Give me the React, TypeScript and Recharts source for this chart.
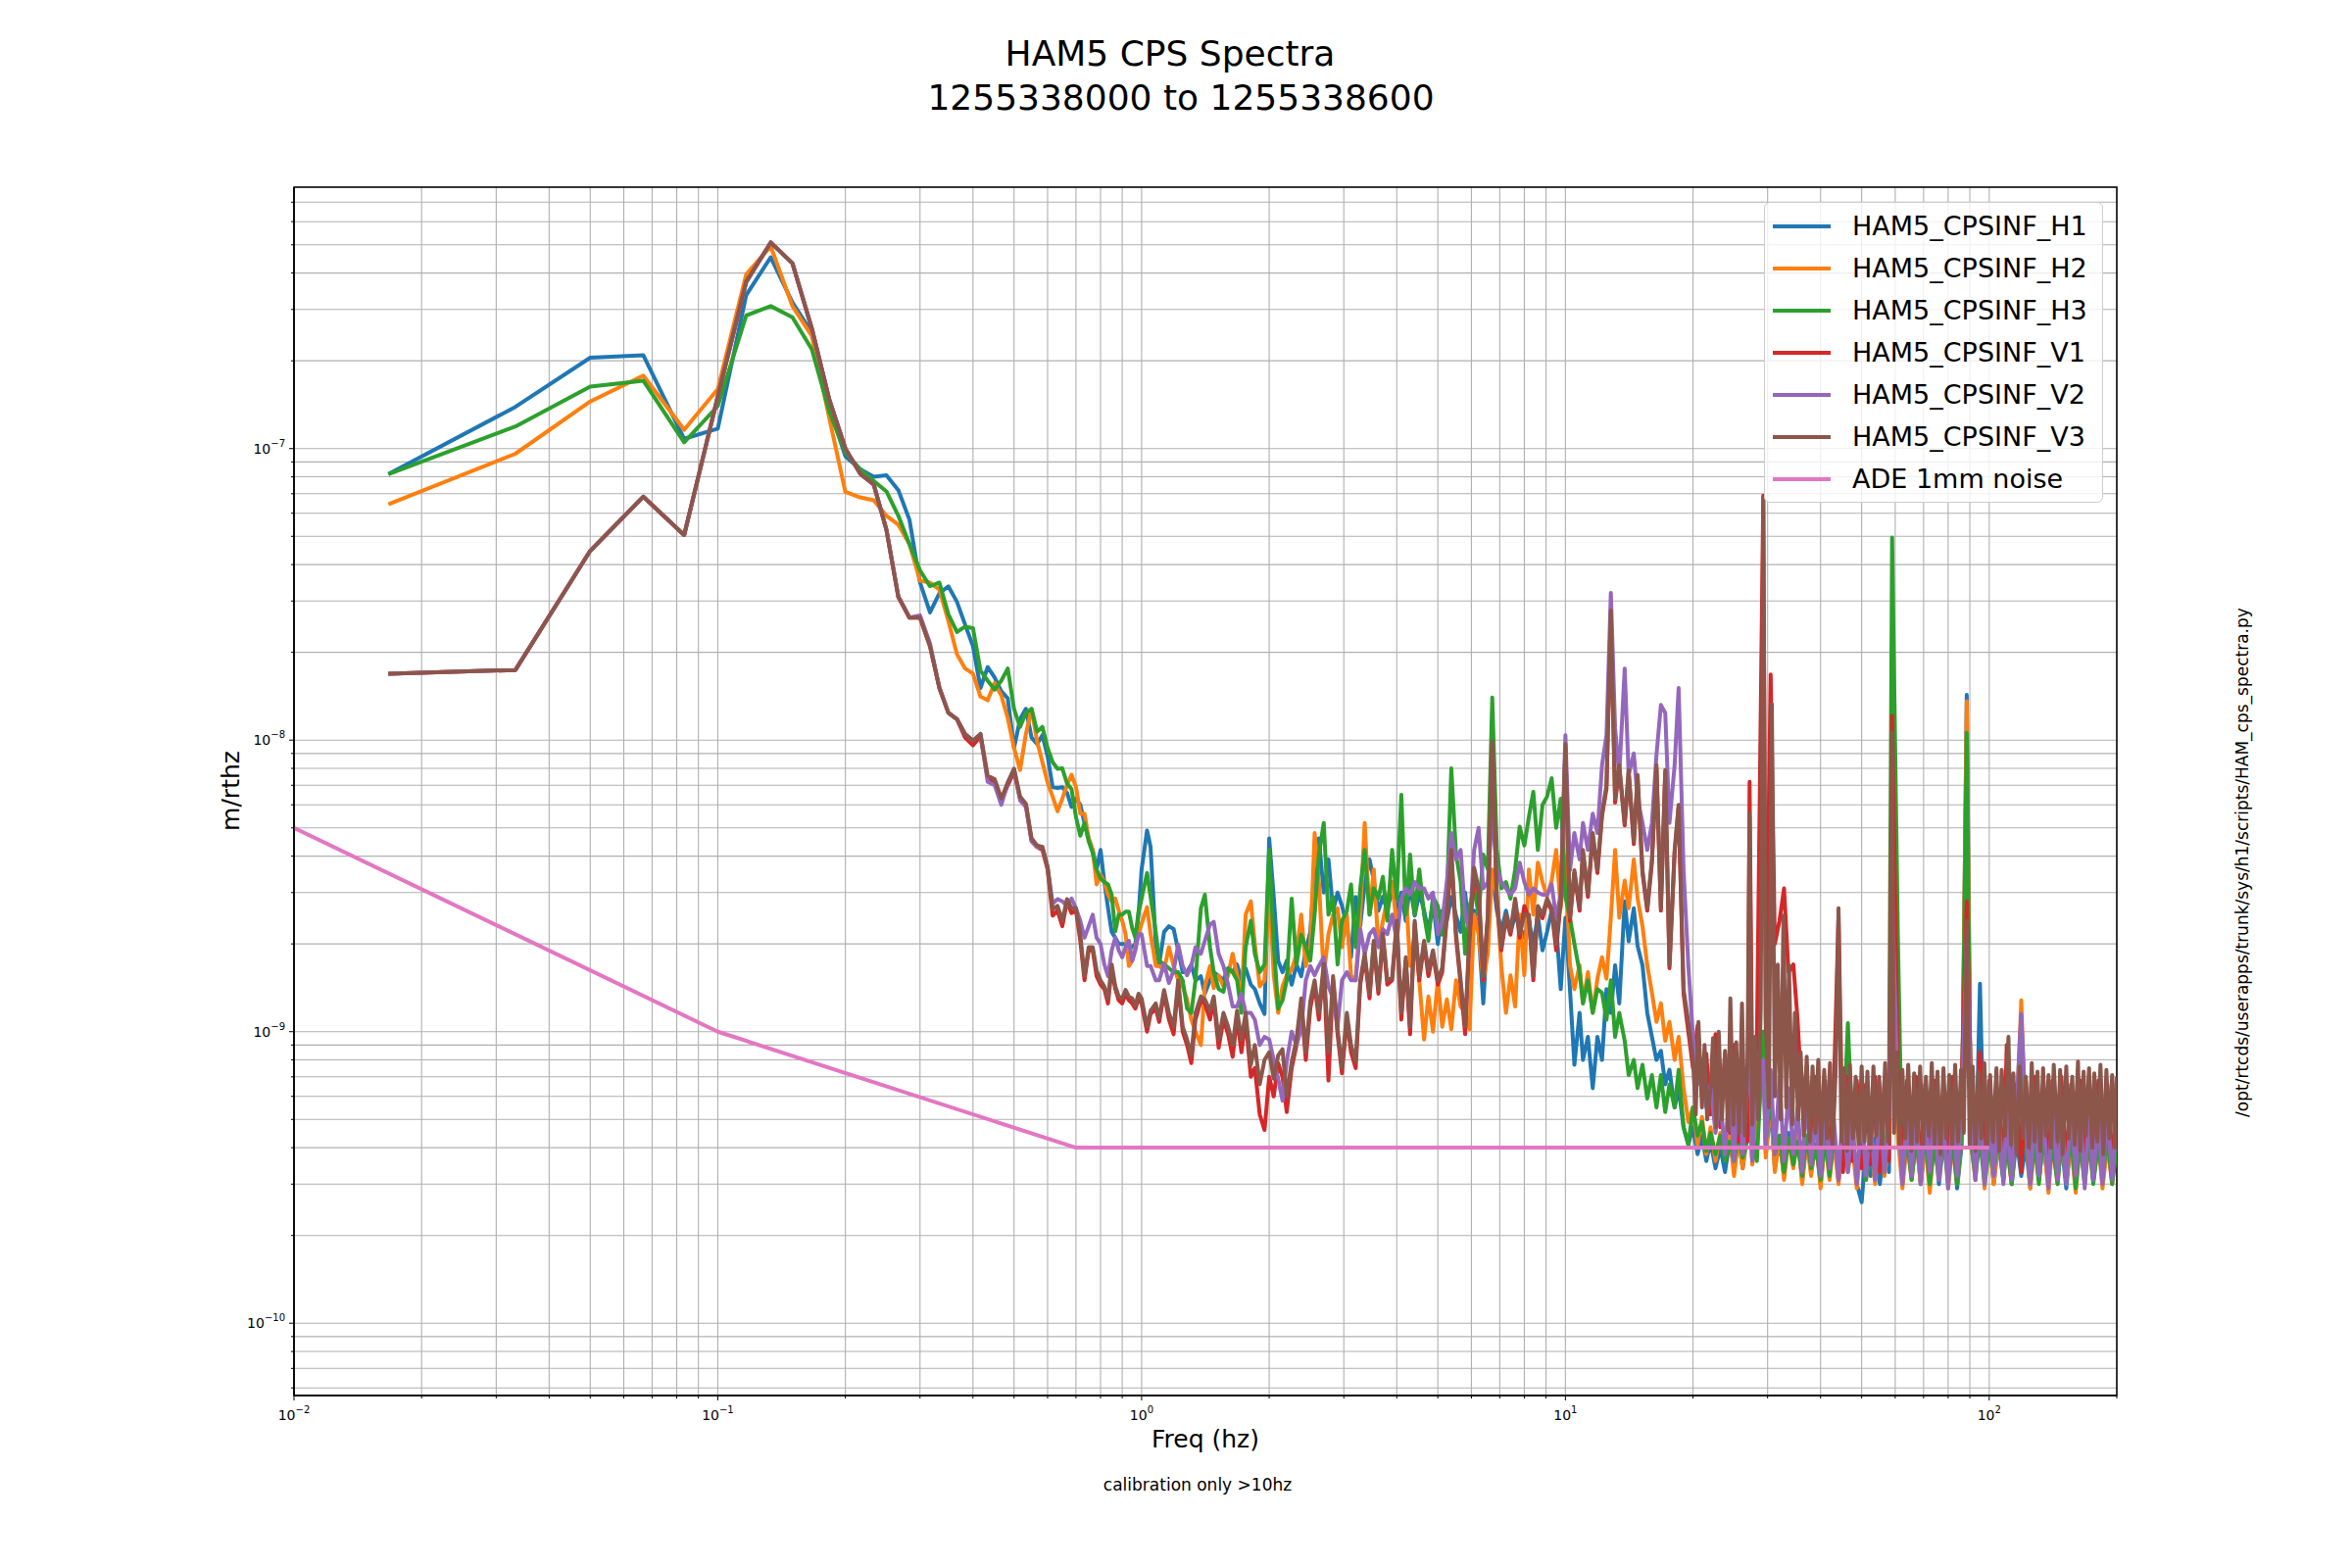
import { LineChart, Line, XAxis, YAxis, CartesianGrid, Legend, ReferenceArea } from "recharts";

// HAM5 CPS amplitude spectra. Values are in nm/rtHz (1e-9 m/rtHz).
const FONT = "DejaVu Sans";
const XMIN = 0.01;
const XMAX = 200;
const YMIN = 0.0565;
const YMAX = 788;

const FREQ = [
  0.0167, 0.0333, 0.05, 0.0667, 0.0833, 0.1, 0.1167, 0.1333, 0.15, 0.1667,
  0.1833, 0.2, 0.2167, 0.2333, 0.25, 0.2667, 0.2833, 0.3, 0.3167, 0.3333,
  0.35, 0.3667, 0.3833, 0.4, 0.4167, 0.4333, 0.45, 0.4667, 0.4833, 0.5,
  0.5167, 0.5333, 0.55, 0.5667, 0.5833, 0.6, 0.6167, 0.6333, 0.65, 0.6667,
  0.6833, 0.7, 0.7167, 0.7333, 0.75, 0.7667, 0.7833, 0.8, 0.8167, 0.8333,
  0.85, 0.8667, 0.8833, 0.9, 0.9167, 0.9333, 0.95, 0.9667, 0.9833, 1.0,
  1.03, 1.05, 1.08, 1.1, 1.13, 1.16, 1.19, 1.22, 1.25, 1.28,
  1.31, 1.34, 1.38, 1.41, 1.45, 1.48, 1.52, 1.56, 1.6, 1.64,
  1.68, 1.72, 1.76, 1.81, 1.85, 1.9, 1.95, 2.0, 2.05, 2.1,
  2.15, 2.2, 2.26, 2.32, 2.38, 2.44, 2.5, 2.56, 2.62, 2.69,
  2.76, 2.83, 2.9, 2.97, 3.05, 3.12, 3.2, 3.28, 3.36, 3.45,
  3.53, 3.62, 3.71, 3.8, 3.9, 4.0, 4.1, 4.2, 4.3, 4.41,
  4.52, 4.64, 4.75, 4.87, 5.0, 5.12, 5.25, 5.38, 5.52, 5.66,
  5.8, 5.94, 6.09, 6.24, 6.4, 6.56, 6.72, 6.89, 7.06, 7.24,
  7.42, 7.61, 7.8, 8.0, 8.2, 8.4, 8.61, 8.83, 9.05, 9.28,
  9.51, 9.75, 10.0, 10.25, 10.5, 10.8, 11.0, 11.3, 11.6, 11.9,
  12.2, 12.5, 12.8, 13.1, 13.4, 13.8, 14.1, 14.5, 14.8, 15.2,
  15.6, 16.0, 16.4, 16.8, 17.2, 17.6, 18.1, 18.5, 19.0, 19.5,
  20.0, 20.5, 21.0, 21.5, 22.0, 22.6, 23.2, 23.8, 24.4, 25.0,
  25.6, 26.2, 26.9, 27.2, 27.6, 28.3, 29.3, 29.7, 30.5, 31.2,
  32.0, 32.8, 33.6, 34.5, 35.3, 36.2, 37.1, 38.0, 39.0, 40.0,
  41.0, 42.0, 43.0, 44.1, 45.2, 46.4, 47.5, 48.7, 50.0, 51.2,
  52.5, 53.8, 55.2, 56.6, 58.0, 59.0, 60.9, 62.4, 64.0, 65.6,
  67.2, 68.9, 70.6, 72.4, 74.2, 76.1, 78.0, 80.0, 82.0, 84.0,
  86.1, 88.5, 90.5, 92.8, 95.1, 97.5, 100, 102.5, 105, 108,
  110, 113, 116, 119, 122, 125, 128, 131, 134, 138,
  141, 145, 148, 152, 156, 160, 164, 168, 172, 176,
  181, 185, 190, 195, 200,
];

const H1 = [
  81.7, 139, 205, 209, 108, 117, 336, 453, 317, 250,
  138, 94, 85, 80, 81, 72, 57, 34.7, 27.4, 31.9,
  33.7, 29.8, 24.9, 21, 15.1, 17.8, 16.4, 14.7, 13.9, 9.4,
  11.8, 12.8, 10.2, 9.7, 10.4, 8.8, 6.9, 6.85, 6.9, 6.6,
  5.9, 6.3, 6.0, 5.2, 4.6, 4.2, 3.6, 4.2, 3.26, 2.65,
  2.2, 2.1, 2.0, 2.0, 2.0, 1.95, 1.95, 2.0, 2.52, 3.6,
  4.9, 4.3, 2.0, 1.7, 2.2, 2.3, 2.25, 1.9, 1.6, 1.6,
  1.7, 1.5, 1.55, 1.35, 1.5, 1.6, 1.55, 1.5, 1.65, 1.6,
  1.7, 1.5, 1.65, 1.45, 1.4, 1.25, 1.15, 4.6, 2.9, 1.75,
  1.6, 1.75, 1.45, 1.7, 1.55, 1.9, 2.2, 3.6, 4.6, 3.0,
  3.9, 2.6, 3.0, 2.7, 2.3, 1.8, 2.9, 2.3, 3.2, 3.9,
  3.3, 2.6, 2.9, 2.6, 3.1, 2.6, 3.0, 2.4, 3.2, 2.5,
  3.0, 2.6, 2.2, 2.8, 2.0, 2.6, 2.4, 2.9, 2.5, 2.2,
  3.0, 2.1, 2.6, 2.2, 1.25, 2.3, 3.5, 2.6, 2.2, 2.6,
  2.2, 2.5, 2.3, 2.1, 2.4, 2.0, 2.5, 1.9, 2.2, 2.6,
  2.3, 1.4, 2.46, 1.4, 0.77, 1.16, 0.8, 0.96, 0.64, 0.96,
  0.8, 1.4, 1.16, 1.69, 1.25, 2.8, 2.04, 2.65, 1.97, 1.69,
  1.16, 0.96, 0.8, 0.86, 0.66, 0.74, 0.55, 0.64, 0.47, 0.41,
  0.47, 0.38, 0.44, 0.36, 0.42, 0.34, 0.4, 0.33, 0.42, 0.35,
  0.44, 0.34, 0.45, 0.5, 0.36, 0.42, 0.9, 0.38, 0.55, 0.34,
  0.42, 0.32, 0.45, 0.35, 0.43, 0.31, 0.44, 0.33, 0.41, 0.3,
  0.42, 0.33, 0.45, 0.31, 0.4, 0.34, 0.44, 0.3, 0.26, 0.4,
  0.32, 0.43, 0.3, 0.41, 0.33, 3.0, 0.45, 0.31, 0.42, 0.32,
  0.44, 0.3, 0.41, 0.33, 0.45, 0.3, 0.42, 0.32, 0.44, 0.29,
  0.41, 14.3, 0.44, 0.31, 1.46, 0.32, 0.43, 0.3, 0.42, 0.31,
  0.44, 0.3, 0.43, 0.32, 0.41, 0.29, 0.44, 0.31, 0.42, 0.3,
  0.43, 0.31, 0.42, 0.29, 0.44, 0.32, 0.41, 0.3, 0.43, 0.31,
  0.42, 0.3, 0.44, 0.31, 0.4,
];

const H2 = [
  64.4, 96, 145, 178, 116, 160, 396, 494, 308, 243,
  127, 71, 68, 66.5, 58.8, 54.8, 47, 35.2, 34.7, 32.8,
  25.6, 19.7, 17.6, 16.9, 14.1, 13.7, 15.7, 14.2, 11.9, 9.4,
  7.9, 10.5, 12.8, 9.9, 8.4, 7.15, 6.4, 5.7, 6.3, 7.0,
  7.6, 6.9, 5.6, 5.6, 4.6, 4.2, 3.2, 3.45, 3.26, 2.95,
  2.8, 2.86, 2.6, 2.4, 2.16, 1.68, 1.75, 1.95, 2.16, 2.35,
  2.67, 2.16, 1.68, 1.68, 1.63, 1.95, 1.68, 1.5, 1.43, 1.29,
  1.1, 1.0, 0.9, 1.43, 1.68, 1.41, 1.56, 1.43, 1.56, 1.85,
  1.56, 1.29, 2.52, 2.8, 2.0, 1.43, 1.5, 3.1, 1.56, 1.16,
  1.43, 1.56, 1.63, 1.85, 2.52, 1.68, 1.95, 4.8, 3.26, 1.56,
  2.16, 2.52, 2.65, 1.95, 2.52, 1.56, 1.5, 2.52, 5.2, 2.52,
  3.6, 1.95, 2.4, 2.86, 3.26, 2.3, 2.8, 3.1, 1.68, 2.16,
  1.5, 0.94, 1.32, 1.0, 1.5, 1.04, 1.29, 1.02, 1.5, 1.22,
  1.16, 1.02, 2.52, 2.16, 1.5, 1.85, 3.6, 2.9, 1.68, 1.16,
  1.56, 1.22, 2.52, 1.56, 3.6, 2.52, 3.8, 3.26, 2.9, 3.3,
  4.2, 2.65, 4.0, 1.69, 1.4, 1.69, 1.25, 1.6, 1.16, 1.52,
  1.8, 1.52, 2.46, 4.2, 2.46, 3.3, 2.65, 3.9, 2.87, 2.3,
  1.69, 1.36, 1.08, 1.25, 0.93, 1.08, 0.8, 0.96, 0.64, 0.49,
  0.55, 0.41, 0.51, 0.38, 0.47, 0.36, 0.45, 0.37, 0.44, 0.32,
  0.43, 0.34, 0.46, 0.6, 0.35, 0.44, 1.0, 0.37, 0.6, 0.33,
  0.44, 0.31, 0.43, 0.34, 0.45, 0.3, 0.42, 0.32, 0.44, 0.29,
  0.43, 0.31, 0.42, 0.3, 0.45, 0.33, 0.41, 0.29, 0.43, 0.31,
  0.42, 0.3, 0.44, 0.32, 0.41, 3.0, 0.43, 0.29, 0.42, 0.31,
  0.44, 0.3, 0.42, 0.28, 0.43, 0.31, 0.45, 0.29, 0.41, 0.3,
  0.43, 13.6, 0.42, 0.31, 0.6, 0.29, 0.44, 0.3, 0.42, 0.32,
  0.41, 0.3, 0.5, 1.28, 0.43, 0.29, 0.42, 0.31, 0.44, 0.28,
  0.42, 0.3, 0.43, 0.31, 0.41, 0.28, 0.44, 0.3, 0.42, 0.31,
  0.43, 0.29, 0.41, 0.3, 0.42,
];

const H3 = [
  81.7, 119, 163, 171, 105, 140, 286, 308, 282, 219,
  134, 97, 85, 77.5, 71.3, 58.8, 47, 38.2, 33.7, 34.7,
  27, 23.5, 24.5, 24.2, 17.3, 16, 14.9, 16, 17.6, 12.8,
  11.1, 12.4, 12.8, 10.7, 11.1, 9.4, 8.4, 7.97, 8.0, 7.1,
  6.8, 5.45, 4.7, 5.2, 4.5, 4.1, 3.6, 3.35, 3.26, 3.2,
  2.95, 2.21, 2.52, 2.52, 2.58, 2.58, 2.27, 2.1, 2.58, 2.86,
  3.5, 2.9, 2.2, 1.75, 1.7, 1.65, 1.6, 1.6, 1.5, 1.2,
  1.16, 1.5, 2.65, 2.95, 1.95, 1.6, 1.4, 1.37, 1.65, 1.6,
  1.5, 1.16, 1.95, 2.4, 1.85, 1.6, 1.7, 4.2, 2.0, 1.2,
  1.28, 1.5, 2.86, 1.7, 2.15, 1.95, 1.75, 2.52, 4.05, 5.2,
  2.52, 2.9, 1.7, 2.4, 2.6, 3.2, 1.95, 3.1, 4.2, 2.52,
  3.1, 2.86, 3.4, 2.4, 4.2, 2.86, 6.5, 2.52, 4.05, 2.52,
  3.6, 2.52, 2.05, 2.9, 2.7, 2.15, 2.9, 8.0, 4.05, 3.26,
  1.85, 2.7, 3.1, 2.52, 4.05, 3.6, 14, 4.2, 3.1, 3.26,
  2.86, 3.6, 5.05, 4.35, 5.45, 6.65, 4.2, 6.0, 6.4, 7.4,
  5.0, 6.3, 2.9, 2.46, 2.0, 1.6, 1.25, 1.5, 1.16, 1.4,
  1.36, 1.1, 1.5, 0.96, 1.16, 0.93, 0.71, 0.8, 0.64, 0.77,
  0.59, 0.71, 0.55, 0.71, 0.53, 0.66, 0.55, 0.74, 0.47, 0.41,
  0.55, 0.44, 0.49, 0.39, 0.45, 0.38, 0.44, 0.36, 0.42, 0.36,
  0.44, 0.37, 0.43, 0.5, 0.45, 0.36, 1.0, 0.42, 0.6, 0.38,
  0.44, 0.33, 0.43, 0.35, 0.42, 0.32, 0.44, 0.34, 0.41, 0.31,
  0.43, 0.32, 0.44, 0.34, 0.42, 1.07, 0.45, 0.33, 0.42, 0.31,
  0.43, 0.32, 0.44, 0.33, 0.6, 49.5, 2.06, 0.32, 0.43, 0.31,
  0.42, 0.33, 0.44, 0.3, 0.41, 0.32, 0.43, 0.31, 0.42, 0.3,
  0.44, 10.6, 0.42, 0.32, 0.43, 0.3, 0.41, 0.33, 0.44, 0.31,
  0.42, 0.3, 0.45, 1.13, 0.43, 0.31, 0.42, 0.3, 0.44, 0.32,
  0.41, 0.3, 0.43, 0.32, 0.44, 0.29, 0.42, 0.31, 0.43, 0.3,
  0.42, 0.31, 0.44, 0.3, 0.41,
];

const V1 = [
  16.9, 17.4, 44.6, 68.4, 50.5, 151, 373, 509, 432, 258,
  147, 100, 82, 75.3, 52.6, 31, 26.3, 26.3, 21, 15.1,
  12.4, 11.8, 10.2, 9.6, 10.3, 7.4, 7.2, 6.2, 7.0, 7.8,
  6.3, 6.0, 4.5, 4.3, 4.2, 3.6, 2.5, 2.6, 2.3, 2.8,
  2.55, 2.6, 2.05, 1.5, 1.9, 1.9, 1.55, 1.45, 1.4, 1.25,
  1.65, 1.4, 1.28, 1.25, 1.35, 1.28, 1.25, 1.2, 1.3, 1.25,
  1.0, 1.15, 1.2, 1.08, 1.35, 1.1, 0.98, 1.45, 1.0, 0.9,
  0.78, 1.1, 1.28, 1.25, 1.1, 1.28, 0.88, 1.1, 0.98, 0.82,
  1.12, 0.85, 1.1, 0.7, 0.75, 0.52, 0.46, 0.7, 0.6, 0.78,
  0.7, 0.53, 0.75, 0.9, 1.25, 0.8, 1.2, 1.45, 1.1, 1.65,
  0.68, 1.5, 0.98, 0.72, 1.1, 0.85, 0.75, 1.45, 1.8, 1.3,
  2.0, 1.35, 2.1, 1.45, 1.5, 2.3, 1.1, 1.75, 0.98, 2.35,
  1.5, 2.0, 1.55, 1.85, 1.45, 1.6, 2.45, 4.0, 2.1, 1.45,
  0.98, 2.1, 3.5, 3.0, 1.5, 2.45, 9.6, 2.8, 1.9, 2.45,
  2.15, 2.8, 2.1, 2.7, 2.45, 1.5, 2.65, 2.45, 2.8, 2.6,
  1.9, 2.8, 9.4, 2.4, 3.5, 2.6, 4.1, 2.9, 4.7, 3.5,
  5.5, 6.8, 27, 6.1, 8.0, 5.1, 7.7, 4.4, 7.4, 3.5,
  2.6, 3.8, 8.0, 2.6, 7.7, 1.65, 4.1, 5.9, 1.35, 1.0,
  0.75, 1.05, 0.6, 0.84, 0.52, 0.98, 0.47, 0.84, 0.45, 0.9,
  0.42, 0.7, 0.42, 7.2, 0.62, 0.9, 69, 1.0, 16.8, 2.0,
  2.4, 3.1, 1.6, 1.7, 1.1, 0.56, 0.76, 0.36, 0.7, 0.34,
  0.68, 0.35, 0.65, 2.5, 0.33, 0.7, 0.36, 0.68, 0.34, 0.66,
  0.35, 0.7, 0.33, 0.68, 0.36, 12.1, 0.75, 0.34, 0.68, 0.36,
  0.7, 0.33, 0.66, 0.36, 0.68, 0.34, 0.66, 0.35, 0.7, 0.33,
  0.66, 2.8, 0.68, 0.34, 0.85, 0.33, 0.68, 0.35, 0.63, 0.33,
  0.9, 0.34, 0.66, 0.33, 0.68, 0.35, 0.7, 0.33, 0.66, 0.34,
  0.68, 0.33, 0.7, 0.34, 0.66, 0.33, 0.68, 0.35, 0.7, 0.33,
  0.68, 0.34, 0.66, 0.33, 0.68,
];

const V2 = [
  16.9, 17.4, 44.6, 68.4, 50.5, 151, 373, 509, 432, 258,
  147, 100, 82, 75.3, 52.6, 31, 26.3, 26.8, 21.5, 15.1,
  12.4, 11.8, 10.5, 9.95, 10.5, 7.2, 7.0, 6.0, 7.15, 7.97,
  6.2, 5.9, 4.5, 4.3, 4.3, 3.67, 2.75, 2.85, 2.8, 2.7,
  2.86, 2.65, 2.4, 2.1, 2.3, 2.52, 2.1, 2.0, 1.7, 1.55,
  1.9, 2.1, 1.9, 1.8, 1.95, 2.05, 1.75, 1.9, 2.16, 2.16,
  1.68, 1.68, 1.5, 1.5, 1.71, 1.47, 1.62, 1.99, 1.68, 1.56,
  1.68, 1.95, 1.85, 2.05, 2.33, 2.38, 1.85, 1.68, 1.45, 1.22,
  1.22, 1.35, 1.16, 1.16, 1.1, 0.9, 0.96, 0.94, 0.8, 0.69,
  0.58, 0.79, 1.0, 0.9, 1.02, 1.5, 1.68, 1.56, 1.68, 1.8,
  1.43, 1.3, 1.04, 1.5, 1.6, 1.5, 1.5, 2.25, 1.85, 2.16,
  2.25, 1.95, 2.25, 2.16, 2.52, 2.05, 2.86, 3.1, 2.95, 3.26,
  3.1, 3.1, 2.86, 3.0, 2.16, 2.38, 3.26, 4.8, 3.9, 4.2,
  2.52, 2.21, 4.2, 5.0, 3.1, 3.26, 5.7, 3.6, 3.26, 3.1,
  2.95, 3.1, 3.8, 3.26, 2.95, 3.1, 3.0, 2.95, 2.95, 3.2,
  2.46, 2.97, 10.4, 3.58, 4.8, 3.9, 5.2, 4.2, 5.6, 4.8,
  8.2, 10.4, 32, 11, 7.6, 17.6, 7.6, 9.0, 6.3, 5.2,
  4.2, 5.2, 8.9, 13.2, 12.4, 5.2, 8.2, 15.1, 3.6, 1.69,
  0.96, 0.66, 0.8, 0.55, 0.66, 0.45, 0.59, 0.38, 0.66, 0.36,
  0.74, 0.38, 0.66, 1.2, 0.36, 0.71, 0.8, 0.41, 0.74, 0.38,
  0.69, 0.36, 0.64, 0.38, 0.55, 0.33, 0.6, 0.35, 0.52, 0.32,
  0.55, 0.34, 0.5, 0.31, 0.56, 0.33, 0.52, 0.3, 0.54, 0.32,
  0.5, 0.31, 0.55, 0.33, 0.52, 3.0, 0.56, 0.3, 0.53, 0.32,
  0.55, 0.3, 0.52, 0.33, 0.56, 0.31, 0.5, 0.29, 0.54, 0.32,
  0.52, 2.2, 0.55, 0.31, 0.56, 0.3, 0.52, 0.32, 0.55, 0.3,
  0.53, 0.31, 0.56, 1.15, 0.5, 0.3, 0.54, 0.32, 0.52, 0.29,
  0.55, 0.31, 0.53, 0.3, 0.56, 0.32, 0.52, 0.29, 0.54, 0.31,
  0.53, 0.3, 0.55, 0.31, 0.52,
];

// V3 on the shared grid up to 19.5 Hz ...
const V3_LF = [
  16.9, 17.4, 44.6, 68.4, 50.5, 151, 373, 509, 432, 258,
  147, 100, 82, 75.3, 52.6, 31, 26.3, 26.3, 21, 15.1,
  12.4, 11.8, 10.5, 9.95, 10.5, 7.55, 7.35, 6.31, 7.15, 7.97,
  6.4, 6.05, 4.6, 4.35, 4.3, 3.67, 2.63, 2.7, 2.4, 2.85,
  2.65, 2.65, 2.15, 1.55, 1.95, 1.95, 1.62, 1.5, 1.43, 1.3,
  1.7, 1.43, 1.32, 1.3, 1.39, 1.32, 1.3, 1.23, 1.35, 1.3,
  1.04, 1.18, 1.25, 1.11, 1.39, 1.16, 1.04, 1.5, 1.04, 0.94,
  0.83, 1.16, 1.32, 1.29, 1.18, 1.32, 0.94, 1.16, 1.04, 0.9,
  1.18, 0.94, 1.16, 0.77, 0.9, 0.66, 0.8, 0.85, 0.69, 0.83,
  0.87, 0.6, 0.79, 0.94, 1.3, 0.85, 1.27, 1.5, 1.16, 1.71,
  0.85, 1.55, 1.02, 0.75, 1.16, 0.9, 0.79, 1.5, 1.85, 1.35,
  2.05, 1.39, 2.17, 1.5, 1.53, 2.4, 1.16, 1.8, 1.04, 2.4,
  1.55, 2.05, 1.62, 1.9, 1.5, 1.66, 2.52, 4.2, 2.17, 1.5,
  1.04, 2.21, 3.65, 3.1, 1.55, 2.52, 9.9, 2.86, 1.95, 2.52,
  2.21, 2.86, 2.17, 2.52, 2.52, 1.55, 2.7, 2.52, 2.86, 2.65,
  2.0, 2.85, 9.7, 2.46, 3.58, 2.65, 4.2, 2.97, 4.8, 3.58,
  5.6, 7.0, 27.8, 6.28, 8.2, 5.2, 7.9, 4.5, 7.6, 3.58,
  2.65, 3.9, 8.2, 2.65, 7.9, 1.69, 4.2, 6.0, 1.4, 1.08,
];

// ... and on a finer grid above 20 Hz, where it forms a solid band
const V3_HF_FREQ = [
  20.0, 20.3, 20.6, 21.0, 21.3, 21.6, 22.0, 22.3, 22.7, 23.0,
  23.4, 23.8, 24.2, 24.5, 24.9, 25.3, 25.7, 26.1, 26.5, 26.9,
  27.2, 27.6, 28.0, 28.5, 28.9, 29.3, 29.7, 30.2, 30.7, 31.2,
  31.7, 32.2, 32.7, 33.2, 33.7, 34.3, 34.8, 35.4, 35.9, 36.5,
  37.1, 37.7, 38.3, 38.9, 39.5, 40.1, 40.8, 41.4, 42.1, 42.7,
  43.4, 44.1, 44.8, 45.5, 46.2, 46.9, 47.7, 48.4, 49.2, 50.0,
  50.8, 51.6, 52.4, 53.3, 54.1, 55.0, 55.9, 56.8, 57.7, 58.4,
  59.0, 59.6, 60.5, 61.4, 62.4, 63.4, 64.4, 65.5, 66.5, 67.6,
  68.7, 69.8, 70.9, 72.0, 73.2, 74.3, 75.5, 76.7, 78.0, 79.2,
  80.5, 81.8, 83.1, 84.4, 85.8, 87.1, 88.5, 89.9, 91.4, 92.8,
  94.3, 95.8, 97.4, 98.9, 100.5, 102, 104, 105.5, 107, 109,
  111, 112.5, 114, 116, 118, 120, 122, 124, 126, 128,
  130, 132, 134, 136, 138, 140, 142, 145, 147, 149,
  152, 154, 157, 159, 162, 164, 167, 169, 172, 175,
  177, 180, 183, 186, 189, 192, 195, 198, 200,
];
const V3_HF = [
  0.8, 0.52, 1.08, 0.55, 0.9, 0.5, 0.64, 0.95, 0.47, 1.0,
  0.5, 0.86, 0.46, 1.3, 0.48, 0.92, 0.45, 1.25, 0.44, 0.8,
  5.6, 0.48, 0.96, 0.5, 1.2, 68, 1.1, 0.55, 13.3, 0.6,
  1.7, 0.5, 2.5, 0.55, 1.69, 0.48, 1.16, 0.5, 0.85, 0.44,
  0.82, 0.42, 0.76, 0.45, 0.8, 0.41, 0.74, 0.43, 0.78, 0.4,
  0.72, 2.65, 0.42, 0.75, 0.39, 0.77, 0.43, 0.7, 0.4, 0.76,
  0.42, 0.73, 0.39, 0.76, 0.44, 0.7, 0.4, 0.78, 0.42, 0.8,
  10.6, 0.45, 0.85, 0.4, 0.74, 0.43, 0.77, 0.39, 0.72, 0.42,
  0.76, 0.4, 0.7, 0.44, 0.78, 0.41, 0.73, 0.38, 0.75, 0.43,
  0.71, 0.4, 0.77, 0.42, 0.74, 0.45, 2.4, 0.41, 0.76, 0.39,
  0.73, 0.43, 0.78, 0.4, 0.71, 0.42, 0.75, 0.39, 0.74, 0.44,
  0.96, 0.41, 0.72, 0.38, 0.76, 0.43, 0.7, 0.4, 0.78, 0.42,
  0.73, 0.39, 0.75, 0.44, 0.71, 0.4, 0.77, 0.42, 0.74, 0.38,
  0.76, 0.43, 0.7, 0.41, 0.79, 0.39, 0.73, 0.44, 0.75, 0.4,
  0.72, 0.42, 0.77, 0.38, 0.74, 0.43, 0.71, 0.4, 0.7,
];

// requirement curve: 1 mm ADE noise
const ADE_FREQ = [0.01, 0.1, 0.7, 100];
const ADE_VAL = [5.0, 1.0, 0.4, 0.4];

const X_TICKS = [
  0.01, 0.02, 0.03, 0.04, 0.05, 0.06, 0.07, 0.08, 0.09,
  0.1, 0.2, 0.3, 0.4, 0.5, 0.6, 0.7, 0.8, 0.9,
  1, 2, 3, 4, 5, 6, 7, 8, 9,
  10, 20, 30, 40, 50, 60, 70, 80, 90,
  100, 200,
];
const Y_TICKS = [
  0.06, 0.07, 0.08, 0.09,
  0.1, 0.2, 0.3, 0.4, 0.5, 0.6, 0.7, 0.8, 0.9,
  1, 2, 3, 4, 5, 6, 7, 8, 9,
  10, 20, 30, 40, 50, 60, 70, 80, 90,
  100, 200, 300, 400, 500, 600, 700,
];

const toRows = (fs: number[], vs: number[]) => vs.map((v, i) => ({ f: fs[i], v }));

const SERIES = [
  { name: "HAM5_CPSINF_H1", color: "#1f77b4", rows: toRows(FREQ, H1) },
  { name: "HAM5_CPSINF_H2", color: "#ff7f0e", rows: toRows(FREQ, H2) },
  { name: "HAM5_CPSINF_H3", color: "#2ca02c", rows: toRows(FREQ, H3) },
  { name: "HAM5_CPSINF_V1", color: "#d62728", rows: toRows(FREQ, V1) },
  { name: "HAM5_CPSINF_V2", color: "#9467bd", rows: toRows(FREQ, V2) },
  { name: "HAM5_CPSINF_V3", color: "#8c564b", rows: [...toRows(FREQ, V3_LF), ...toRows(V3_HF_FREQ, V3_HF)] },
  { name: "ADE 1mm noise", color: "#e377c2", rows: toRows(ADE_FREQ, ADE_VAL) },
];
const LEGEND_ORDER = SERIES.map((s) => s.name);

const isDecade = (v: number) => {
  const l = Math.log10(v);
  return Math.abs(l - Math.round(l)) < 1e-9;
};
const expText = (e: number) => (e < 0 ? `\u2212${-e}` : `${e}`);

function XTick({ x, y, payload }: any) {
  const major = isDecade(payload.value);
  const e = Math.round(Math.log10(payload.value));
  return (
    <g>
      <line x1={x} x2={x} y1={y} y2={y + (major ? 5 : 3)} stroke="#000" strokeWidth={1} />
      {major && (
        <text x={x} y={y + 25} textAnchor="middle" fontFamily={FONT} fontSize={14} fill="#000">
          10<tspan dy={-7} fontSize={10}>{expText(e)}</tspan>
        </text>
      )}
    </g>
  );
}

function YTick({ x, y, payload }: any) {
  const major = isDecade(payload.value);
  // nm -> m for the label
  const e = Math.round(Math.log10(payload.value)) - 9;
  return (
    <g>
      <line x1={x - (major ? 5 : 3)} x2={x} y1={y} y2={y} stroke="#000" strokeWidth={1} />
      {major && (
        <text x={x - 9} y={y + 5} textAnchor="end" fontFamily={FONT} fontSize={14} fill="#000">
          10<tspan dy={-7} fontSize={10}>{expText(e)}</tspan>
        </text>
      )}
    </g>
  );
}

function LegendBox({ payload }: any) {
  return (
    <div
      style={{
        width: 344,
        padding: "2px 0",
        border: "1.5px solid #cccccc",
        borderRadius: 6,
        background: "rgba(255,255,255,0.8)",
        fontFamily: FONT,
        fontSize: 27,
        color: "#000",
      }}
    >
      {(payload || []).map((p: any) => (
        <div key={p.value} style={{ display: "flex", alignItems: "center", height: 43 }}>
          <div style={{ width: 59, height: 4, background: p.color, marginLeft: 8, marginRight: 22 }} />
          <span style={{ whiteSpace: "nowrap" }}>{p.value}</span>
        </div>
      ))}
    </div>
  );
}

export default function App() {
  return (
    <div style={{ position: "absolute", left: 0, top: 0, width: 2400, height: 1600, background: "#fff" }}>
      <LineChart width={2400} height={1600} margin={{ top: 191, right: 240, bottom: 136, left: 220 }}>
        <CartesianGrid stroke="#b0b0b0" strokeWidth={1.1} />
        <XAxis
          type="number"
          dataKey="f"
          scale="log"
          domain={[XMIN, XMAX]}
          allowDataOverflow
          ticks={X_TICKS}
          interval={0}
          height={40}
          tickSize={0}
          tickMargin={0}
          tickLine={false}
          axisLine={{ stroke: "#000", strokeWidth: 1.5 }}
          tick={<XTick />}
        />
        <YAxis
          type="number"
          scale="log"
          domain={[YMIN, YMAX]}
          allowDataOverflow
          ticks={Y_TICKS}
          interval={0}
          width={80}
          tickSize={0}
          tickMargin={0}
          tickLine={false}
          axisLine={{ stroke: "#000", strokeWidth: 1.5 }}
          tick={<YTick />}
        />
        {SERIES.map((s) => (
          <Line
            key={s.name}
            name={s.name}
            data={s.rows}
            dataKey="v"
            stroke={s.color}
            strokeWidth={4}
            strokeLinejoin="round"
            dot={false}
            activeDot={false}
            legendType="line"
            isAnimationActive={false}
          />
        ))}
        <ReferenceArea x1={XMIN} x2={XMAX} y1={YMIN} y2={YMAX} fill="none" stroke="#000" strokeWidth={1.5} ifOverflow="visible" />
        <Legend
          layout="vertical"
          align="center"
          verticalAlign="middle"
          itemSorter={(item: any) => LEGEND_ORDER.indexOf(item.value)}
          content={<LegendBox />}
          wrapperStyle={{ left: 1800, top: 206, width: 348 }}
        />
      </LineChart>
      <svg width={2400} height={1600} style={{ position: "absolute", left: 0, top: 0, pointerEvents: "none" }}>
        <g fontFamily={FONT} fill="#000">
          <text x={1194} y={67} textAnchor="middle" fontSize={36}>HAM5 CPS Spectra</text>
          <text x={1205} y={112} textAnchor="middle" fontSize={36}>1255338000 to 1255338600</text>
          <text x={1230} y={1477} textAnchor="middle" fontSize={25}>Freq (hz)</text>
          <text x={244} y={807} textAnchor="middle" fontSize={25} transform="rotate(-90 244 807)">m/rthz</text>
          <text x={1222} y={1521} textAnchor="middle" fontSize={17}>calibration only &gt;10hz</text>
          <text x={2294} y={880} textAnchor="middle" fontSize={17} transform="rotate(-90 2294 880)">
            /opt/rtcds/userapps/trunk/sys/h1/scripts/HAM_cps_spectra.py
          </text>
        </g>
      </svg>
    </div>
  );
}
